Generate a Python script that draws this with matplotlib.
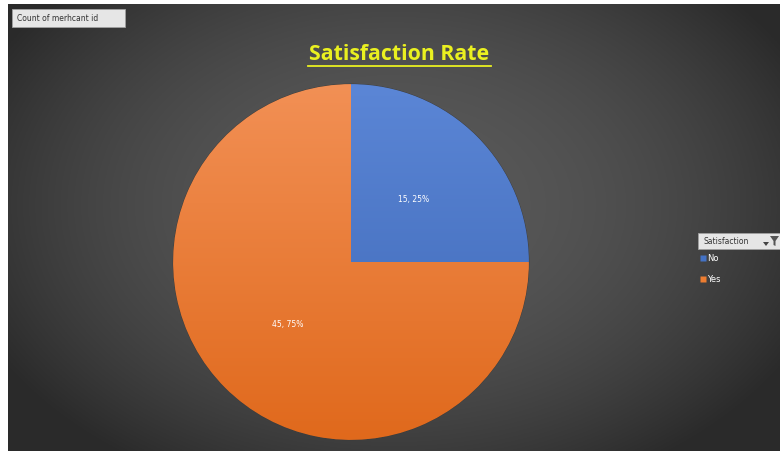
import numpy as np
import matplotlib.pyplot as plt
from matplotlib.patches import Rectangle, Polygon
from matplotlib.lines import Line2D

labels = ['No', 'Yes']
counts = [15, 45]
colors = ['#4472C4', '#ED7D31']
light = ['#5B86D6', '#F29055']
dark = ['#3C66B4', '#E0691C']

W, H = 780, 451
fig = plt.figure(figsize=(W / 100, H / 100), dpi=100)
fig.patch.set_facecolor('white')

# dark radial background of the chart area
bg = fig.add_axes([8 / W, 0, 772 / W, 447 / H])
yy, xx = np.mgrid[-1:1:300j, -1:1:500j]
r2 = (xx / 1.1) ** 2 + ((yy + 0.1) / 1.3) ** 2
shade = np.clip(0.35 - 0.16 * r2, 0.165, 1)
bg.imshow(np.dstack([shade] * 3), aspect='auto', extent=[0, 1, 0, 1])
bg.set_axis_off()

# pie
cx, cy, rad = 351, 262, 178
ax = fig.add_axes([(cx - rad - 2) / W, (H - cy - rad - 2) / H,
                   (2 * rad + 4) / W, (2 * rad + 4) / H])
ax.set_axis_off()
total = sum(counts)
wedges, texts, autotexts = ax.pie(
    counts, colors=colors, startangle=90, counterclock=False, radius=1,
    autopct=lambda p: f'{round(p * total / 100)}, {p:.0f}%', pctdistance=0.5,
    wedgeprops=dict(edgecolor='#3a3a3a', linewidth=0.6),
    textprops=dict(color='white', fontsize=5.5))
ax.set_xlim(-1.012, 1.012)
ax.set_ylim(-1.012, 1.012)

# vertical gradient fill inside each wedge
gy = np.linspace(1, 0, 256)[:, None]
for w, lo, hi in zip(wedges, dark, light):
    c0 = np.array(plt.matplotlib.colors.to_rgb(lo))
    c1 = np.array(plt.matplotlib.colors.to_rgb(hi))
    img = c0 + (c1 - c0) * gy[..., None] * np.ones((1, 2, 1))
    im = ax.imshow(img, extent=[-1, 1, -1, 1], aspect='auto', zorder=1.5)
    im.set_clip_path(w)
for t in autotexts:
    t.set_zorder(3)

# title
fig.text(399 / W, 1 - 54 / H, 'Satisfaction Rate', color='#EAF020',
         fontsize=15.3, fontweight='bold', family='Open Sans',
         ha='center', va='center')
fig.add_artist(Line2D([308 / W, 491 / W], [1 - 66 / H] * 2,
                      color='#EAF020', linewidth=1.3))

# field button
fig.add_artist(Rectangle((12 / W, 1 - 27 / H), 113 / W, 18 / H,
                         facecolor='#E6E6E6', edgecolor='#A0A0A0',
                         linewidth=0.6))
fig.text(17 / W, 1 - 18.5 / H, 'Count of merhcant id', color='#333333',
         fontsize=5.5, va='center')

# legend field button with filter icon
fig.add_artist(Rectangle((698 / W, 1 - 249 / H), 82 / W, 16 / H,
                         facecolor='#E6E6E6', edgecolor='#A0A0A0',
                         linewidth=0.6))
fig.text(703 / W, 1 - 241 / H, 'Satisfaction', color='#333333',
         fontsize=5.5, va='center')
fig.add_artist(Polygon([(770 / W, 1 - 236 / H), (779 / W, 1 - 236 / H),
                        (775.5 / W, 1 - 241 / H), (775.5 / W, 1 - 246 / H),
                        (773.5 / W, 1 - 245 / H), (773.5 / W, 1 - 241 / H)],
                       closed=True, facecolor='#555555', edgecolor='none'))
fig.add_artist(Polygon([(763 / W, 1 - 242 / H), (769 / W, 1 - 242 / H),
                        (766 / W, 1 - 246 / H)], closed=True,
                       facecolor='#444444', edgecolor='none'))

handles = [Line2D([], [], marker='s', linestyle='none', markersize=4,
                  markerfacecolor=c, markeredgecolor='none') for c in colors]
leg = fig.legend(handles, labels, loc='upper left',
                 bbox_to_anchor=(700 / W, 1 - 254 / H), frameon=False,
                 fontsize=6, labelcolor='white', handlelength=0.6,
                 handletextpad=0.3, labelspacing=1.4, borderpad=0,
                 borderaxespad=0)

fig.savefig('out.png', dpi=100)
